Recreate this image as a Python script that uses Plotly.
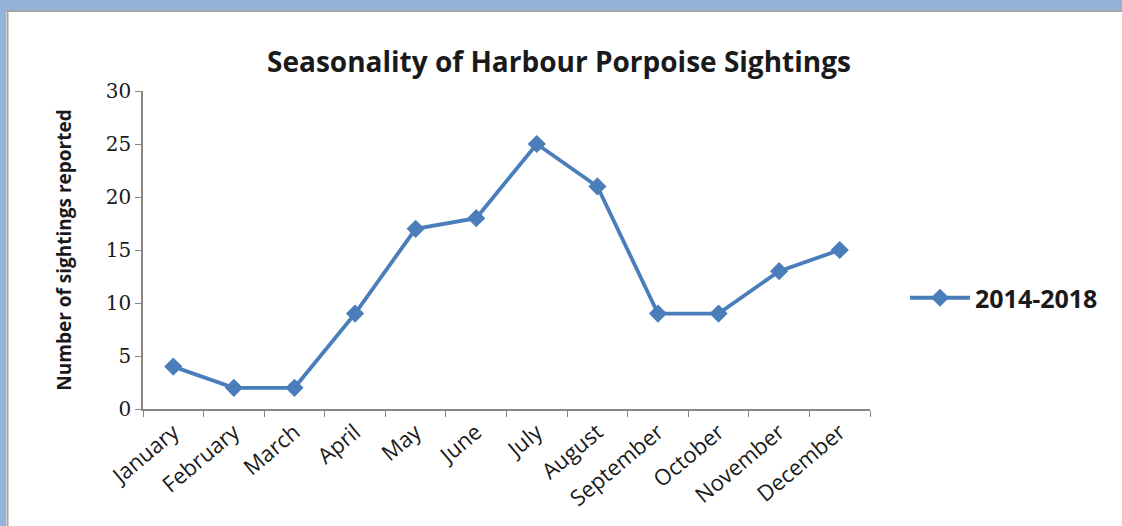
import plotly.graph_objects as go

months = ["January", "February", "March", "April", "May", "June", "July",
          "August", "September", "October", "November", "December"]
sightings = [4, 2, 2, 9, 17, 18, 25, 21, 9, 9, 13, 15]
series_name = "2014-2018"

W, H = 1122, 526
L, R, T, B = 143, 252, 91, 117
pw, ph = W - L - R, H - T - B


def px_x(x):
    return (x - L) / pw


def px_y(y):
    return (H - B - y) / ph


fig = go.Figure()
fig.add_trace(go.Scatter(
    x=months, y=sightings, name="<b>" + series_name + "</b>",
    mode="lines+markers",
    line=dict(color="#4A7EBB", width=3.8),
    marker=dict(symbol="diamond", size=14, color="#4A7EBB"),
))

# outer frame: blue bands on top/left and a thin grey edge
shapes = [
    dict(type="rect", xref="paper", yref="paper", x0=px_x(0), x1=px_x(W),
         y0=px_y(0), y1=px_y(10), fillcolor="#95B3D7", line_width=0, layer="below"),
    dict(type="rect", xref="paper", yref="paper", x0=px_x(0), x1=px_x(6),
         y0=px_y(0), y1=px_y(H), fillcolor="#95B3D7", line_width=0, layer="below"),
    dict(type="line", xref="paper", yref="paper", x0=px_x(6), x1=px_x(W),
         y0=px_y(11), y1=px_y(11), line=dict(color="#A6A6A6", width=2)),
    dict(type="line", xref="paper", yref="paper", x0=px_x(7.5), x1=px_x(7.5),
         y0=px_y(11), y1=px_y(H), line=dict(color="#A6A6A6", width=2)),
]

font_family = "Open Sans, Liberation Sans, sans-serif"

fig.update_layout(
    width=W, height=H,
    margin=dict(l=L, r=R, t=T, b=B),
    paper_bgcolor="white", plot_bgcolor="white",
    shapes=shapes,
    font=dict(family=font_family, color="#000000"),
    title=dict(text="<b>Seasonality of Harbour Porpoise Sightings</b>",
               x=px_x(559), xanchor="center", y=1 - 62 / H, yanchor="middle",
               xref="paper", font=dict(size=28, color="#1a1a1a")),
    showlegend=True,
    legend=dict(x=px_x(905), y=px_y(298), xanchor="left", yanchor="middle",
                font=dict(size=25, color="#1a1a1a"), itemwidth=60,
                bgcolor="rgba(0,0,0,0)"),
    xaxis=dict(
        type="category", range=[-0.5, 11.5], tickson="boundaries",
        ticks="outside", ticklen=6, tickcolor="#868686",
        showline=True, linecolor="#868686", linewidth=1.5,
        showgrid=False, tickangle=-40,
        tickfont=dict(size=22, color="#1a1a1a"),
    ),
    yaxis=dict(
        range=[0, 30], dtick=5, ticks="outside", ticklen=6, tickcolor="#868686",
        showline=True, linecolor="#868686", linewidth=1.5, showgrid=False,
        zeroline=False,
        tickfont=dict(size=20, color="#1a1a1a", family="DejaVu Serif, serif"),
        title=dict(text="<b>Number of sightings reported</b>",
                   font=dict(size=19, color="#1a1a1a"), standoff=29),
    ),
)

fig.write_html("out.html")
